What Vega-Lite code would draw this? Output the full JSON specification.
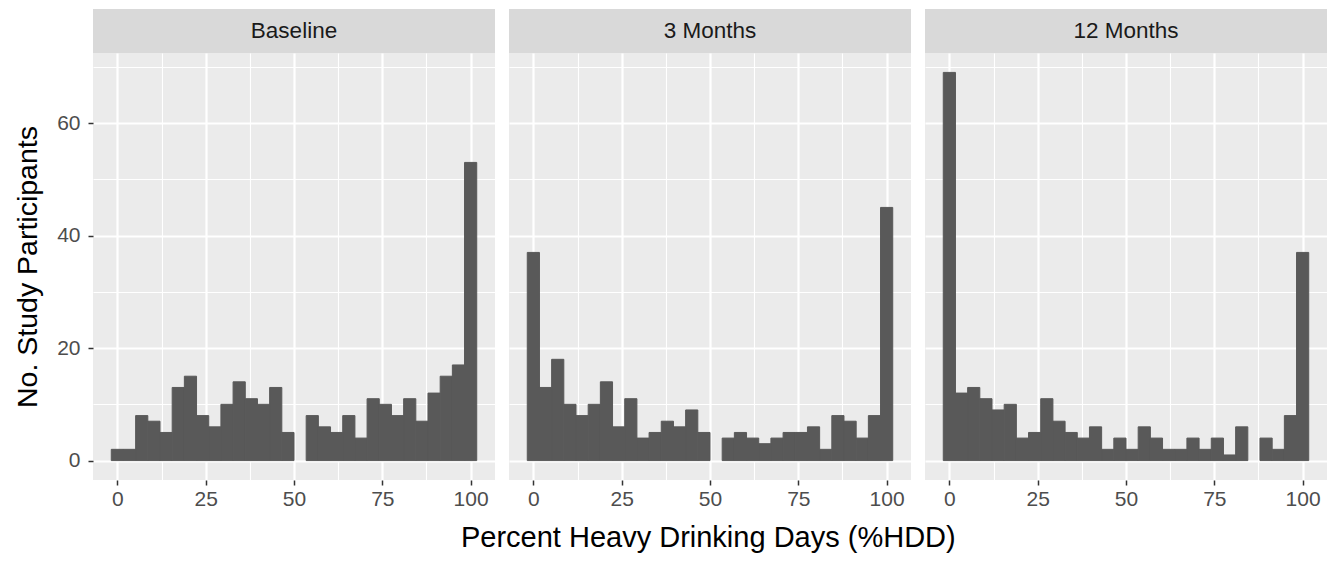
{
  "$schema": "https://vega.github.io/schema/vega-lite/v6.json",
  "background": "white",
  "padding": {"left": 13, "top": 9, "right": 5, "bottom": 5},
  "title": {"text": "Percent Heavy Drinking Days (%HDD)", "orient": "bottom", "anchor": "middle", "frame": "bounds", "fontSize": 29, "fontWeight": "normal", "font": "Liberation Sans", "color": "#000000", "offset": 15, "dx": 38},
  "datasets": {
    "strips": [{"p": "Baseline"}, {"p": "3 Months"}, {"p": "12 Months"}],
    "bins": [
      {"p":"Baseline","lo":-1.7241,"hi":1.7241,"n":2},
      {"p":"Baseline","lo":1.7241,"hi":5.1724,"n":2},
      {"p":"Baseline","lo":5.1724,"hi":8.6207,"n":8},
      {"p":"Baseline","lo":8.6207,"hi":12.069,"n":7},
      {"p":"Baseline","lo":12.069,"hi":15.5172,"n":5},
      {"p":"Baseline","lo":15.5172,"hi":18.9655,"n":13},
      {"p":"Baseline","lo":18.9655,"hi":22.4138,"n":15},
      {"p":"Baseline","lo":22.4138,"hi":25.8621,"n":8},
      {"p":"Baseline","lo":25.8621,"hi":29.3103,"n":6},
      {"p":"Baseline","lo":29.3103,"hi":32.7586,"n":10},
      {"p":"Baseline","lo":32.7586,"hi":36.2069,"n":14},
      {"p":"Baseline","lo":36.2069,"hi":39.6552,"n":11},
      {"p":"Baseline","lo":39.6552,"hi":43.1034,"n":10},
      {"p":"Baseline","lo":43.1034,"hi":46.5517,"n":13},
      {"p":"Baseline","lo":46.5517,"hi":50,"n":5},
      {"p":"Baseline","lo":50,"hi":53.4483,"n":0},
      {"p":"Baseline","lo":53.4483,"hi":56.8966,"n":8},
      {"p":"Baseline","lo":56.8966,"hi":60.3448,"n":6},
      {"p":"Baseline","lo":60.3448,"hi":63.7931,"n":5},
      {"p":"Baseline","lo":63.7931,"hi":67.2414,"n":8},
      {"p":"Baseline","lo":67.2414,"hi":70.6897,"n":4},
      {"p":"Baseline","lo":70.6897,"hi":74.1379,"n":11},
      {"p":"Baseline","lo":74.1379,"hi":77.5862,"n":10},
      {"p":"Baseline","lo":77.5862,"hi":81.0345,"n":8},
      {"p":"Baseline","lo":81.0345,"hi":84.4828,"n":11},
      {"p":"Baseline","lo":84.4828,"hi":87.931,"n":7},
      {"p":"Baseline","lo":87.931,"hi":91.3793,"n":12},
      {"p":"Baseline","lo":91.3793,"hi":94.8276,"n":15},
      {"p":"Baseline","lo":94.8276,"hi":98.2759,"n":17},
      {"p":"Baseline","lo":98.2759,"hi":101.7241,"n":53},
      {"p":"3 Months","lo":-1.7241,"hi":1.7241,"n":37},
      {"p":"3 Months","lo":1.7241,"hi":5.1724,"n":13},
      {"p":"3 Months","lo":5.1724,"hi":8.6207,"n":18},
      {"p":"3 Months","lo":8.6207,"hi":12.069,"n":10},
      {"p":"3 Months","lo":12.069,"hi":15.5172,"n":8},
      {"p":"3 Months","lo":15.5172,"hi":18.9655,"n":10},
      {"p":"3 Months","lo":18.9655,"hi":22.4138,"n":14},
      {"p":"3 Months","lo":22.4138,"hi":25.8621,"n":6},
      {"p":"3 Months","lo":25.8621,"hi":29.3103,"n":11},
      {"p":"3 Months","lo":29.3103,"hi":32.7586,"n":4},
      {"p":"3 Months","lo":32.7586,"hi":36.2069,"n":5},
      {"p":"3 Months","lo":36.2069,"hi":39.6552,"n":7},
      {"p":"3 Months","lo":39.6552,"hi":43.1034,"n":6},
      {"p":"3 Months","lo":43.1034,"hi":46.5517,"n":9},
      {"p":"3 Months","lo":46.5517,"hi":50,"n":5},
      {"p":"3 Months","lo":50,"hi":53.4483,"n":0},
      {"p":"3 Months","lo":53.4483,"hi":56.8966,"n":4},
      {"p":"3 Months","lo":56.8966,"hi":60.3448,"n":5},
      {"p":"3 Months","lo":60.3448,"hi":63.7931,"n":4},
      {"p":"3 Months","lo":63.7931,"hi":67.2414,"n":3},
      {"p":"3 Months","lo":67.2414,"hi":70.6897,"n":4},
      {"p":"3 Months","lo":70.6897,"hi":74.1379,"n":5},
      {"p":"3 Months","lo":74.1379,"hi":77.5862,"n":5},
      {"p":"3 Months","lo":77.5862,"hi":81.0345,"n":6},
      {"p":"3 Months","lo":81.0345,"hi":84.4828,"n":2},
      {"p":"3 Months","lo":84.4828,"hi":87.931,"n":8},
      {"p":"3 Months","lo":87.931,"hi":91.3793,"n":7},
      {"p":"3 Months","lo":91.3793,"hi":94.8276,"n":4},
      {"p":"3 Months","lo":94.8276,"hi":98.2759,"n":8},
      {"p":"3 Months","lo":98.2759,"hi":101.7241,"n":45},
      {"p":"12 Months","lo":-1.7241,"hi":1.7241,"n":69},
      {"p":"12 Months","lo":1.7241,"hi":5.1724,"n":12},
      {"p":"12 Months","lo":5.1724,"hi":8.6207,"n":13},
      {"p":"12 Months","lo":8.6207,"hi":12.069,"n":11},
      {"p":"12 Months","lo":12.069,"hi":15.5172,"n":9},
      {"p":"12 Months","lo":15.5172,"hi":18.9655,"n":10},
      {"p":"12 Months","lo":18.9655,"hi":22.4138,"n":4},
      {"p":"12 Months","lo":22.4138,"hi":25.8621,"n":5},
      {"p":"12 Months","lo":25.8621,"hi":29.3103,"n":11},
      {"p":"12 Months","lo":29.3103,"hi":32.7586,"n":7},
      {"p":"12 Months","lo":32.7586,"hi":36.2069,"n":5},
      {"p":"12 Months","lo":36.2069,"hi":39.6552,"n":4},
      {"p":"12 Months","lo":39.6552,"hi":43.1034,"n":6},
      {"p":"12 Months","lo":43.1034,"hi":46.5517,"n":2},
      {"p":"12 Months","lo":46.5517,"hi":50,"n":4},
      {"p":"12 Months","lo":50,"hi":53.4483,"n":2},
      {"p":"12 Months","lo":53.4483,"hi":56.8966,"n":6},
      {"p":"12 Months","lo":56.8966,"hi":60.3448,"n":4},
      {"p":"12 Months","lo":60.3448,"hi":63.7931,"n":2},
      {"p":"12 Months","lo":63.7931,"hi":67.2414,"n":2},
      {"p":"12 Months","lo":67.2414,"hi":70.6897,"n":4},
      {"p":"12 Months","lo":70.6897,"hi":74.1379,"n":2},
      {"p":"12 Months","lo":74.1379,"hi":77.5862,"n":4},
      {"p":"12 Months","lo":77.5862,"hi":81.0345,"n":1},
      {"p":"12 Months","lo":81.0345,"hi":84.4828,"n":6},
      {"p":"12 Months","lo":84.4828,"hi":87.931,"n":0},
      {"p":"12 Months","lo":87.931,"hi":91.3793,"n":4},
      {"p":"12 Months","lo":91.3793,"hi":94.8276,"n":2},
      {"p":"12 Months","lo":94.8276,"hi":98.2759,"n":8},
      {"p":"12 Months","lo":98.2759,"hi":101.7241,"n":37}
    ]
  },
  "config": {
    "font": "Liberation Sans",
    "view": {"stroke": null},
    "axis": {
      "domain": false,
      "gridColor": "#FFFFFF",
      "tickColor": "#333333",
      "tickWidth": 1.5,
      "tickSize": 5,
      "labelColor": "#4D4D4D",
      "labelFont": "Liberation Sans",
      "labelFontSize": 21,
      "titleFont": "Liberation Sans",
      "titleFontSize": 28.5,
      "titleFontWeight": "normal",
      "titleColor": "#000000",
      "labelOverlap": false,
      "labelFlush": false
    }
  },
  "spacing": 14,
  "hconcat": [
    {
      "spacing": 0,
      "vconcat": [
        {
          "data": {"name": "strips"},
          "transform": [{"filter": "datum.p === 'Baseline'"}],
          "width": 402, "height": 44,
          "view": {"fill": "#D9D9D9", "stroke": null},
          "mark": {"type": "text", "fontSize": 22.5, "color": "#1A1A1A", "font": "Liberation Sans"},
          "encoding": {"text": {"field": "p", "type": "nominal"}}
        },
        {
          "data": {"name": "bins"},
          "transform": [{"filter": "datum.p === 'Baseline' && datum.n > 0"}],
          "width": 402, "height": 427,
          "view": {"fill": "#EBEBEB", "stroke": null},
          "mark": {"type": "rect", "color": "#595959", "stroke": "#595959", "strokeWidth": 1},
          "encoding": {
            "x": {"field": "lo", "type": "quantitative",
              "scale": {"domain": [-6.897, 106.897], "nice": false, "zero": false},
              "axis": {"title": null, "values": [0, 12.5, 25, 37.5, 50, 62.5, 75, 87.5, 100],
                "labelExpr": "datum.value % 25 === 0 ? datum.label : ''",
                "tickOpacity": {"condition": {"test": "datum.value % 25 === 0", "value": 1}, "value": 0},
                "gridWidth": {"condition": {"test": "datum.value % 25 === 0", "value": 2.2}, "value": 1.1},
                "labelPadding": 3}},
            "x2": {"field": "hi"},
            "y": {"field": "n", "type": "quantitative",
              "scale": {"domain": [-3.45, 72.45], "nice": false, "zero": false},
              "axis": {"title": "No. Study Participants", "values": [0, 10, 20, 30, 40, 50, 60, 70],
                "labelExpr": "datum.value % 20 === 0 ? datum.label : ''",
                "tickOpacity": {"condition": {"test": "datum.value % 20 === 0", "value": 1}, "value": 0},
                "gridWidth": {"condition": {"test": "datum.value % 20 === 0", "value": 2.2}, "value": 1.1},
                "labelPadding": 8, "titlePadding": 14}},
            "y2": {"datum": 0}
          }
        }
      ]
    },
    {
      "spacing": 0,
      "vconcat": [
        {
          "data": {"name": "strips"},
          "transform": [{"filter": "datum.p === '3 Months'"}],
          "width": 402, "height": 44,
          "view": {"fill": "#D9D9D9", "stroke": null},
          "mark": {"type": "text", "fontSize": 22.5, "color": "#1A1A1A", "font": "Liberation Sans"},
          "encoding": {"text": {"field": "p", "type": "nominal"}}
        },
        {
          "data": {"name": "bins"},
          "transform": [{"filter": "datum.p === '3 Months' && datum.n > 0"}],
          "width": 402, "height": 427,
          "view": {"fill": "#EBEBEB", "stroke": null},
          "mark": {"type": "rect", "color": "#595959", "stroke": "#595959", "strokeWidth": 1},
          "encoding": {
            "x": {"field": "lo", "type": "quantitative",
              "scale": {"domain": [-6.897, 106.897], "nice": false, "zero": false},
              "axis": {"title": null, "values": [0, 12.5, 25, 37.5, 50, 62.5, 75, 87.5, 100],
                "labelExpr": "datum.value % 25 === 0 ? datum.label : ''",
                "tickOpacity": {"condition": {"test": "datum.value % 25 === 0", "value": 1}, "value": 0},
                "gridWidth": {"condition": {"test": "datum.value % 25 === 0", "value": 2.2}, "value": 1.1},
                "labelPadding": 3}},
            "x2": {"field": "hi"},
            "y": {"field": "n", "type": "quantitative",
              "scale": {"domain": [-3.45, 72.45], "nice": false, "zero": false},
              "axis": {"title": null, "values": [0, 10, 20, 30, 40, 50, 60, 70],
                "labels": false, "ticks": false, "minExtent": 0, "maxExtent": 0, "offset": 0, "labelPadding": 0,
                "gridWidth": {"condition": {"test": "datum.value % 20 === 0", "value": 2.2}, "value": 1.1}}},
            "y2": {"datum": 0}
          }
        }
      ]
    },
    {
      "spacing": 0,
      "vconcat": [
        {
          "data": {"name": "strips"},
          "transform": [{"filter": "datum.p === '12 Months'"}],
          "width": 402, "height": 44,
          "view": {"fill": "#D9D9D9", "stroke": null},
          "mark": {"type": "text", "fontSize": 22.5, "color": "#1A1A1A", "font": "Liberation Sans"},
          "encoding": {"text": {"field": "p", "type": "nominal"}}
        },
        {
          "data": {"name": "bins"},
          "transform": [{"filter": "datum.p === '12 Months' && datum.n > 0"}],
          "width": 402, "height": 427,
          "view": {"fill": "#EBEBEB", "stroke": null},
          "mark": {"type": "rect", "color": "#595959", "stroke": "#595959", "strokeWidth": 1},
          "encoding": {
            "x": {"field": "lo", "type": "quantitative",
              "scale": {"domain": [-6.897, 106.897], "nice": false, "zero": false},
              "axis": {"title": null, "values": [0, 12.5, 25, 37.5, 50, 62.5, 75, 87.5, 100],
                "labelExpr": "datum.value % 25 === 0 ? datum.label : ''",
                "tickOpacity": {"condition": {"test": "datum.value % 25 === 0", "value": 1}, "value": 0},
                "gridWidth": {"condition": {"test": "datum.value % 25 === 0", "value": 2.2}, "value": 1.1},
                "labelPadding": 3}},
            "x2": {"field": "hi"},
            "y": {"field": "n", "type": "quantitative",
              "scale": {"domain": [-3.45, 72.45], "nice": false, "zero": false},
              "axis": {"title": null, "values": [0, 10, 20, 30, 40, 50, 60, 70],
                "labels": false, "ticks": false, "minExtent": 0, "maxExtent": 0, "offset": 0, "labelPadding": 0,
                "gridWidth": {"condition": {"test": "datum.value % 20 === 0", "value": 2.2}, "value": 1.1}}},
            "y2": {"datum": 0}
          }
        }
      ]
    }
  ]
}
